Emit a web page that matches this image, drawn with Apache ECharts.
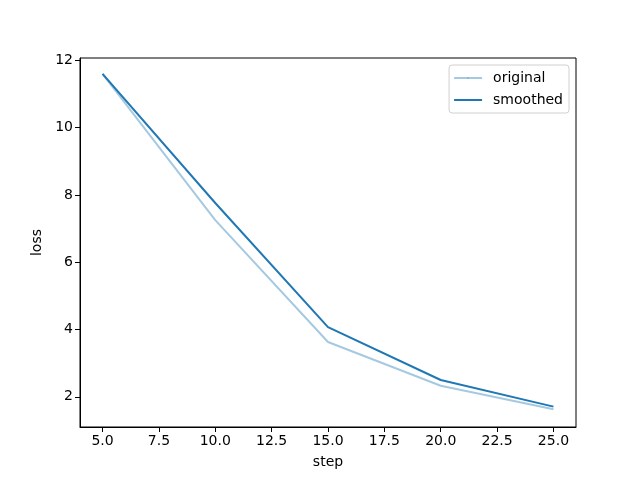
<!DOCTYPE html>
<html lang="en">
<head>
    <meta charset="UTF-8">
    <title>loss</title>
    <style>
        * { margin: 0; padding: 0; }
        #main { width: 640px; height: 480px; background: #fff; }
    </style>
</head>
<body>
    <div id="main"></div>
    <script src="https://cdn.jsdelivr.net/npm/echarts@6/dist/echarts.min.js"></script>
    <script>
        var steps = [5, 10, 15, 20, 25];
        var original = [11.6, 7.25, 3.63, 2.33, 1.63];
        var smoothed = [11.6, 7.76, 4.07, 2.50, 1.71];
        var xTicks = [5, 7.5, 10, 12.5, 15, 17.5, 20, 22.5, 25];
        var yTicks = [2, 4, 6, 8, 10, 12];

        function pairs(ys) {
            var res = [];
            for (var i = 0; i < steps.length; i++) {
                res.push([steps[i], ys[i]]);
            }
            return res;
        }

        var font = 'DejaVu Sans';
        var chart = echarts.init(document.getElementById('main'));
        chart.setOption({
            animation: false,
            textStyle: { fontFamily: font },
            grid: {
                left: 80, right: 64, top: 58, bottom: 53,
                show: true, borderColor: '#000', borderWidth: 1
            },
            legend: {
                orient: 'vertical',
                right: 71, top: 65,
                data: ['original', 'smoothed'],
                itemWidth: 28, itemHeight: 2, itemGap: 8,
                padding: [6, 6, 6, 4],
                borderColor: '#d0d0d0', borderWidth: 1, borderRadius: 3,
                backgroundColor: 'rgba(255,255,255,0.8)',
                textStyle: { fontFamily: font, fontSize: 14, color: '#000', padding: [0, 0, 0, 6] }
            },
            xAxis: {
                type: 'value',
                min: 4, max: 26,
                name: 'step', nameLocation: 'middle', nameGap: 28,
                nameTextStyle: { fontFamily: font, fontSize: 14, color: '#000' },
                axisLine: { show: true, onZero: false, lineStyle: { color: '#000', width: 1 } },
                axisTick: { show: true, length: 5, lineStyle: { color: '#000' }, customValues: xTicks },
                axisLabel: {
                    color: '#000', fontSize: 14, fontFamily: font, margin: 7,
                    customValues: xTicks,
                    formatter: function (v) { return v.toFixed(1); }
                },
                splitLine: { show: false }
            },
            yAxis: {
                type: 'value',
                min: 1.104, max: 12.07,
                name: 'loss', nameLocation: 'middle', nameGap: 34,
                nameTextStyle: { fontFamily: font, fontSize: 14, color: '#000' },
                axisLine: { show: true, onZero: false, lineStyle: { color: '#000', width: 1 } },
                axisTick: { show: true, length: 5, lineStyle: { color: '#000' }, customValues: yTicks },
                axisLabel: {
                    color: '#000', fontSize: 14, fontFamily: font, margin: 7,
                    customValues: yTicks
                },
                splitLine: { show: false }
            },
            series: [
                {
                    name: 'original',
                    type: 'line',
                    symbol: 'none',
                    data: pairs(original),
                    itemStyle: { color: 'rgba(31,119,180,0.4)' },
                    lineStyle: { color: 'rgba(31,119,180,0.4)', width: 2 }
                },
                {
                    name: 'smoothed',
                    type: 'line',
                    symbol: 'none',
                    data: pairs(smoothed),
                    itemStyle: { color: '#1f77b4' },
                    lineStyle: { color: '#1f77b4', width: 2 }
                }
            ]
        });
    </script>
</body>
</html>
